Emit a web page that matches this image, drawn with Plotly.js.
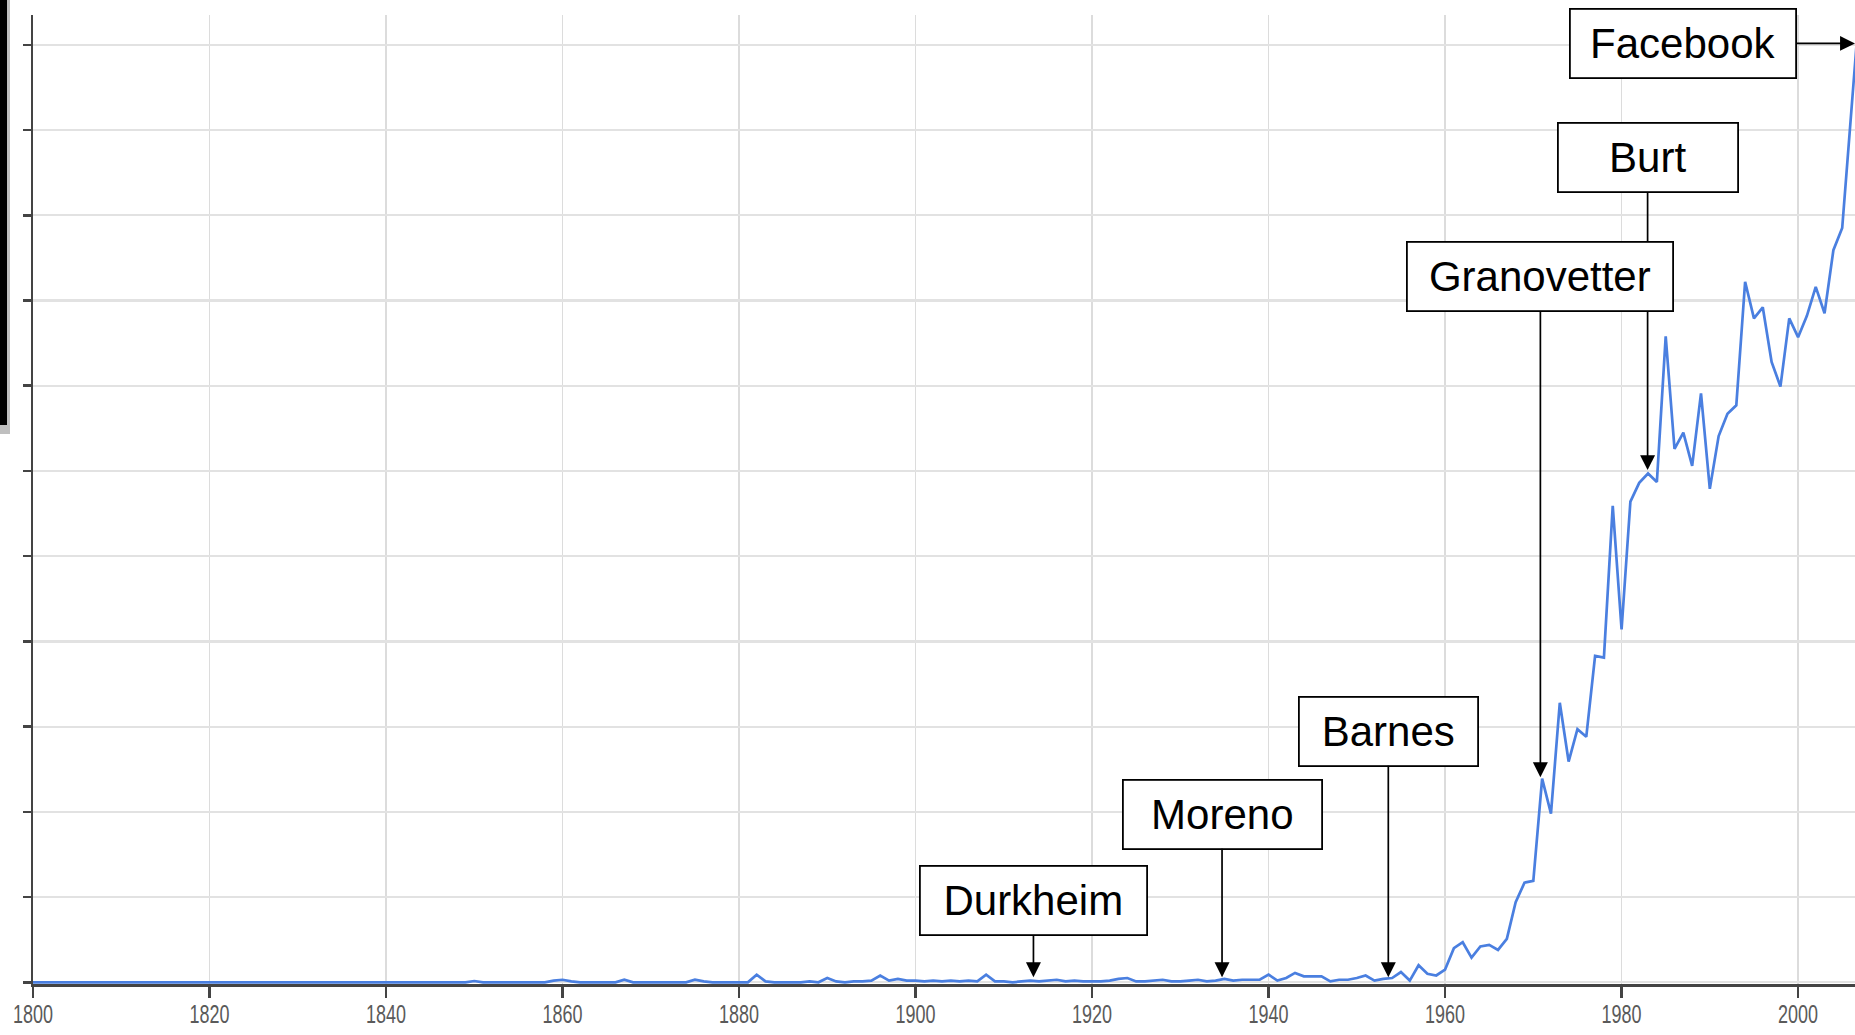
<!DOCTYPE html>
<html>
<head>
<meta charset="utf-8">
<script src="https://cdn.plot.ly/plotly-3.0.1.min.js"></script>
<style>
html,body{margin:0;padding:0;background:#fff;}
#chart{width:1855px;height:1035px;}
</style>
</head>
<body>
<div id="chart"></div>
<script>
// Frequency series (relative units, one value per year, 1800-2008)
var startYear = 1800;
var frequency = [
  0,0,0,0,0,0,0,0,0,0, 0,0,0,0,0,0,0,0,0,0,
  0,0,0,0,0,0,0,0,0,0, 0,0,0,0,0,0,0,0,0,0,
  0,0,0,0,0,0,0,0,0,0,
  0.015,0,0,0,0,0,0,0,0,0.02,
  0.03,0.01,0,0,0,0,0,0.03,0,0,
  0,0,0,0,0,0.03,0.01,0,0,0,
  0,0,0.09,0.01,0,0,0,0,0.01,0,
  0.05,0.01,0,0.01,0.01,0.02,0.08,0.02,0.04,0.02,
  0.02,0.01,0.02,0.01,0.02,0.01,0.02,0.01,0.09,0.01,
  0.01,0,0.01,0.02,0.01,0.02,0.03,0.01,0.02,0.01,
  0.01,0.01,0.02,0.04,0.05,0.01,0.01,0.02,0.03,0.01,
  0.01,0.02,0.03,0.01,0.02,0.04,0.02,0.03,0.03,0.03,
  0.09,0.02,0.05,0.11,0.07,0.07,0.07,0.01,0.03,0.03,
  0.05,0.08,0.02,0.04,0.05,0.12,0.02,0.20,0.10,0.08,
  0.15,0.40,0.47,0.29,0.42,0.44,0.38,0.51,0.94,1.17,
  1.19,2.39,1.98,3.28,2.59,2.97,2.88,3.83,3.81,5.59,
  4.14,5.64,5.86,5.97,5.87,7.58,6.26,6.45,6.06,6.91,
  5.79,6.41,6.67,6.77,8.22,7.79,7.92,7.28,6.99,7.79,
  7.57,7.82,8.16,7.85,8.59,8.85,10.2,11.5,11.8
];
var years = [];
for (var i = 0; i < frequency.length; i++) years.push(startYear + i);

// Tick labels
var xTickVals = [1800,1820,1840,1860,1880,1900,1920,1940,1960,1980,2000];
var xTickText = ["1800","1820","1840","1860","1880","1900","1920","1940","1960","1980","2000"];

// Callout labels
var calloutText = ["Durkheim","Moreno","Barnes","Burt","Granovetter","Facebook"];

var xMax = 2006.45;

var trace = {
  x: years, y: frequency, type: 'scatter', mode: 'lines',
  line: {color: '#4a7fe0', width: 2.7},
  hoverinfo: 'skip', showlegend: false
};

// annotation geometry (tip and box centre, in data units)
var geo = [
  {tx:1913.36, ty:0.06,  bx:1913.36, by:0.959, w:225},
  {tx:1934.73, ty:0.06,  bx:1934.73, by:1.972, w:197},
  {tx:1953.57, ty:0.06,  bx:1953.57, by:2.946, w:177},
  {tx:1982.95, ty:6.01,  bx:1982.95, by:9.677, w:178},
  {tx:1970.80, ty:2.406, bx:1970.80, by:8.28,  w:264},
  {tx:xMax,    ty:11.017,bx:1987.0,  by:11.017,w:224}
];
var annotations = calloutText.map(function(t, i){
  var g = geo[i];
  return {
    text: t, x: g.tx, y: g.ty, xref: 'x', yref: 'y',
    ax: g.bx, ay: g.by, axref: 'x', ayref: 'y',
    showarrow: true, arrowhead: 2, arrowsize: 1.76, arrowwidth: 1.7, arrowcolor: '#000',
    standoff: 0, startstandoff: 0,
    font: {family: 'Liberation Sans, Arial, sans-serif', size: 42, color: '#000'},
    bgcolor: '#fff', bordercolor: '#000', borderwidth: 1.8, borderpad: 0,
    width: g.w, height: 67.5, align: 'center', valign: 'middle'
  };
});

var layout = {
  width: 1855, height: 1035,
  margin: {l: 33, r: 0, t: 15, b: 51, pad: 0},
  paper_bgcolor: '#fff', plot_bgcolor: '#fff',
  showlegend: false,
  xaxis: {
    range: [1800, xMax], tickmode: 'array', tickvals: xTickVals, ticktext: xTickText,
    showgrid: true, gridcolor: '#dcdcdc', gridwidth: 1.4,
    showline: true, linecolor: '#444', linewidth: 2.8,
    ticks: 'outside', ticklen: 11, tickwidth: 2.4, tickcolor: '#444',
    ticklabelstandoff: -5,
    tickfont: {family: 'Liberation Sans, Arial, sans-serif', size: 25, color: '#5a5a5a'},
    zeroline: false, layer: 'below traces', fixedrange: true
  },
  yaxis: {
    range: [-0.02, 11.35], tickmode: 'linear', tick0: 0, dtick: 1,
    showticklabels: false,
    showgrid: true, gridcolor: '#e2e2e2', gridwidth: 2.2,
    showline: true, linecolor: '#444', linewidth: 2.2,
    ticks: 'outside', ticklen: 8, tickwidth: 2.6, tickcolor: '#444',
    zeroline: false, layer: 'below traces', fixedrange: true
  },
  annotations: annotations,
  shapes: [
    {type:'rect', xref:'paper', yref:'paper', x0:-0.01811, x1:-0.01262, y0:0.5675, y1:1.02,
     fillcolor:'rgba(0,0,0,0.25)', line:{width:0}, layer:'above'},
    {type:'rect', xref:'paper', yref:'paper', x0:-0.01811, x1:-0.01427, y0:0.5768, y1:1.02,
     fillcolor:'#000', line:{width:0}, layer:'above'}
  ]
};

Plotly.newPlot('chart', [trace], layout, {displayModeBar: false, staticPlot: true}).then(function(gd){
  // condensed look of the original tick labels
  var texts = gd.querySelectorAll('.xtick text');
  texts.forEach(function(t){
    t.setAttribute('textLength', '40');
    t.setAttribute('lengthAdjust', 'spacingAndGlyphs');
  });
});
</script>
</body>
</html>
